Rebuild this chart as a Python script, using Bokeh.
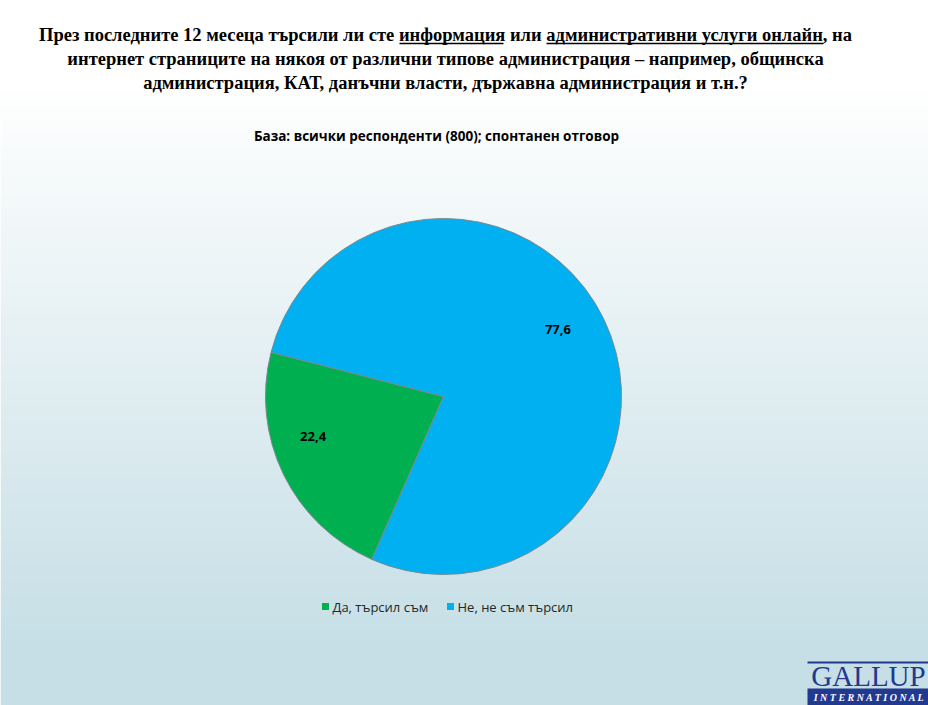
import numpy as np
from bokeh.plotting import figure
from bokeh.models import Range1d
from bokeh.core.properties import value
from bokeh.embed import file_html
from bokeh.resources import INLINE

# ---------------- data ----------------
title_lines = [
    "През последните 12 месеца търсили ли сте информация или административни услуги онлайн, на",
    "интернет страниците на някоя от различни типове администрация – например, общинска",
    "администрация, КАТ, данъчни власти, държавна администрация и т.н.?",
]
subtitle = "База: всички респонденти (800); спонтанен отговор"
categories = ["Да, търсил съм", "Не, не съм търсил"]
values = [22.4, 77.6]
value_labels = ["22,4", "77,6"]
colors = ["#00b050", "#00b0f0"]

W, H = 928, 705

p = figure(width=W, height=H, output_backend="svg", toolbar_location=None,
           x_range=Range1d(0, W), y_range=Range1d(0, H),
           min_border=0, min_border_left=0, min_border_right=0,
           min_border_top=0, min_border_bottom=0)
p.axis.visible = False
p.grid.visible = False
p.outline_line_color = None
p.background_fill_color = "white"
p.border_fill_color = "white"

# ---------------- background gradient ----------------
top = np.array([255, 255, 255], float)
bot = np.array([0xc6, 0xdf, 0xe6], float)
rows = np.arange(H)  # row 0 = bottom
ys_screen = H - rows
t = np.clip((ys_screen - 90) / (650 - 90), 0, 1)
cols = top[None, :] * (1 - t[:, None]) + bot[None, :] * t[:, None]
img = np.zeros((H, 1), dtype=np.uint32)
view = img.view(dtype=np.uint8).reshape((H, 1, 4))
view[:, 0, 0] = cols[:, 0].astype(np.uint8)
view[:, 0, 1] = cols[:, 1].astype(np.uint8)
view[:, 0, 2] = cols[:, 2].astype(np.uint8)
view[:, 0, 3] = 255
p.image_rgba(image=[img], x=0, y=0, dw=W, dh=H)

def sy(y):
    return H - y

# ---------------- title ----------------
title_centers = [34, 58, 82]
for line, yc in zip(title_lines, title_centers):
    p.text(x=[445], y=[sy(yc)], text=[line], text_align="center",
           text_baseline="middle", text_font=value("Liberation Serif"),
           text_font_style="bold", text_font_size="18.5px", text_color="#000000")
# underlines of the emphasised words
p.segment(x0=[399, 546], y0=[sy(43), sy(43)], x1=[503, 823], y1=[sy(43), sy(43)],
          line_color="#000000", line_width=1.3)

# ---------------- subtitle ----------------
p.text(x=[436], y=[sy(135)], text=[subtitle], text_align="center",
       text_baseline="middle", text_font=value("Open Sans"),
       text_font_style="bold", text_font_size="13.5px", text_color="#000000")

# ---------------- pie ----------------
cx, cy, R = 443, sy(396), 178
start0 = np.radians(165.6)
fr = np.array(values) / sum(values)
ends = start0 + np.cumsum(fr) * 2 * np.pi
starts = np.concatenate([[start0], ends[:-1]])
p.wedge(x=cx, y=cy, radius=R, start_angle=starts, end_angle=ends,
        direction="anticlock", fill_color=colors, line_color="#7a8a90", line_width=1)

mids = (starts + ends) / 2
lr = 135
nudge_x = np.array([-9, -7])
nudge_y = np.array([19, 8])
p.text(x=cx + lr * np.cos(mids) + nudge_x, y=cy + lr * np.sin(mids) + nudge_y,
       text=value_labels, text_align="center", text_baseline="middle",
       text_font=value("Open Sans"), text_font_style="bold",
       text_font_size="13px", text_color="#000000")

# ---------------- legend ----------------
leg_x = [325, 450]
leg_y = sy(606)
p.scatter(x=leg_x, y=[leg_y] * 2, marker="square", size=7, fill_color=colors,
          line_color=None)
p.text(x=[x + 7 for x in leg_x], y=[leg_y] * 2, text=categories,
       text_align="left", text_baseline="middle", text_font=value("Open Sans"),
       text_font_size="13px", text_color="#262626")

# ---------------- Gallup logo ----------------
navy = "#21398f"
p.quad(left=[807], right=[W], top=[sy(661)], bottom=[sy(663)], fill_color=navy, line_color=None)
p.text(x=[868], y=[sy(675)], text=["GALLUP"], text_align="center",
       text_baseline="middle", text_font=value("Liberation Serif"),
       text_font_size="29px", text_color=navy)
p.quad(left=[807], right=[W], top=[sy(688)], bottom=[0], fill_color=navy, line_color=None)
p.text(x=[869], y=[sy(697)], text=["I N T E R N A T I O N A L"], text_align="center",
       text_baseline="middle", text_font=value("Liberation Serif"),
       text_font_style="bold italic", text_font_size="10px", text_color="white")

html = file_html(p, INLINE)
html = html.replace("<head>", "<head><style>html,body{margin:0;padding:0;overflow:hidden;}</style>", 1)
open("out.html", "w").write(html)
